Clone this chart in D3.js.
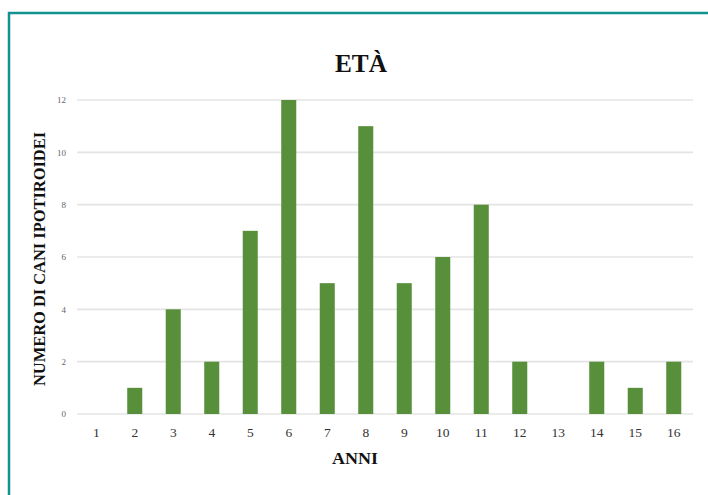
<!DOCTYPE html>
<html>
<head>
<meta charset="utf-8">
<script src="https://cdn.jsdelivr.net/npm/d3@7"></script>
<style>
  html, body { margin: 0; padding: 0; background: #ffffff; }
  svg { display: block; }
</style>
</head>
<body>
<svg id="chart" width="708" height="495"></svg>
<script>
// Età dei cani ipotiroidei: numero di cani per anno di età
const anni = ["1","2","3","4","5","6","7","8","9","10","11","12","13","14","15","16"];
const numeroCani = [0, 1, 4, 2, 7, 12, 5, 11, 5, 6, 8, 2, 0, 2, 1, 2];
const yTicks = [0, 2, 4, 6, 8, 10, 12];
const titolo = "ETÀ";
const asseX = "ANNI";
const asseY = "NUMERO DI CANI IPOTIROIDEI";

const svg = d3.select("#chart");
const serif = "'Liberation Serif', 'DejaVu Serif', serif";

// cornice
svg.append("rect")
  .attr("x", 9).attr("y", 13)
  .attr("width", 760).attr("height", 560)
  .attr("fill", "none")
  .attr("stroke", "#13938f")
  .attr("stroke-width", 2.5);

const x = d3.scaleBand()
  .domain(anni)
  .range([77, 693])
  .paddingInner(0.61)
  .paddingOuter(0.305);

const y = d3.scaleLinear()
  .domain([0, 12])
  .range([414, 100]);

// griglia orizzontale
svg.append("g")
  .selectAll("line")
  .data(yTicks)
  .join("line")
  .attr("x1", 77).attr("x2", 693)
  .attr("y1", d => y(d)).attr("y2", d => y(d))
  .attr("stroke", "#e4e4e4")
  .attr("stroke-width", 1.6);

// etichette asse Y
const yAxis = d3.axisLeft(y).tickValues(yTicks).tickSize(0).tickPadding(0);
const gy = svg.append("g").attr("transform", "translate(66,0)").call(yAxis);
gy.select(".domain").remove();
gy.selectAll("text")
  .attr("font-family", serif)
  .attr("font-size", 9)
  .attr("fill", "#666");

// barre
svg.append("g")
  .selectAll("rect")
  .data(numeroCani)
  .join("rect")
  .attr("x", (d, i) => x(anni[i]))
  .attr("width", x.bandwidth())
  .attr("y", d => y(d))
  .attr("height", d => y(0) - y(d))
  .attr("fill", "#578f3a");

// etichette asse X
const xAxis = d3.axisBottom(x).tickSize(0).tickPadding(0);
const gx = svg.append("g").attr("transform", "translate(0,427)").call(xAxis);
gx.select(".domain").remove();
gx.selectAll("text")
  .attr("font-family", serif)
  .attr("font-size", 13.5)
  .attr("fill", "#333");

// titolo
svg.append("text")
  .attr("x", 361).attr("y", 72)
  .attr("text-anchor", "middle")
  .attr("font-family", serif)
  .attr("font-weight", "bold")
  .attr("font-size", 26)
  .attr("textLength", 52)
  .attr("lengthAdjust", "spacingAndGlyphs")
  .attr("fill", "#111")
  .text(titolo);

// titolo asse X
svg.append("text")
  .attr("x", 355).attr("y", 464)
  .attr("text-anchor", "middle")
  .attr("font-family", serif)
  .attr("font-weight", "bold")
  .attr("font-size", 16.5)
  .attr("textLength", 46)
  .attr("lengthAdjust", "spacingAndGlyphs")
  .attr("fill", "#111")
  .text(asseX);

// titolo asse Y
svg.append("text")
  .attr("transform", "translate(45,259) rotate(-90)")
  .attr("text-anchor", "middle")
  .attr("font-family", serif)
  .attr("font-weight", "bold")
  .attr("font-size", 16)
  .attr("textLength", 254)
  .attr("lengthAdjust", "spacingAndGlyphs")
  .attr("fill", "#111")
  .text(asseY);
</script>
</body>
</html>
